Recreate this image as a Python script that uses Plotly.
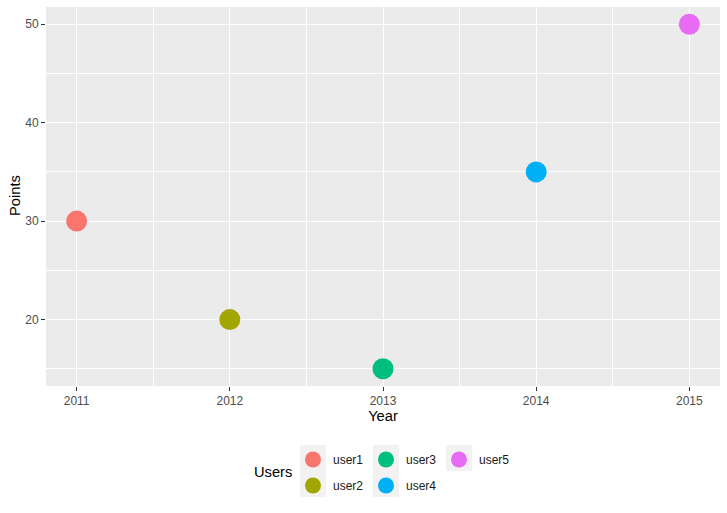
import plotly.graph_objects as go

users = ["user1", "user2", "user3", "user4", "user5"]
years = [2011, 2012, 2013, 2014, 2015]
points = [30, 20, 15, 35, 50]
colors = ["#F8766D", "#A3A500", "#00BF7D", "#00B0F6", "#E76BF3"]
legend_ids = ["legend", "legend", "legend2", "legend2", "legend3"]

W, H = 727, 513
ml, mr, mt, mb = 46, 7, 7, 127
pw = W - ml - mr
ph = H - mt - mb

def px_x(p):
    return (p - ml) / pw

def px_y(p):
    return (H - mb - p) / ph

def cx(p):
    return p / W

def cy(p):
    return 1 - p / H

fig = go.Figure()
for u, yr, pt, c, lg in zip(users, years, points, colors, legend_ids):
    fig.add_trace(go.Scatter(
        x=[yr], y=[pt], mode="markers", name=u, legend=lg,
        legendgroup=u,
        marker=dict(color=c, size=21, line=dict(width=0)),
    ))

font = "Liberation Sans, Arial, sans-serif"
leg_common = dict(
    orientation="v", xanchor="left", yanchor="top",
    xref="container", yref="container",
    bgcolor="rgba(0,0,0,0)", borderwidth=0,
    font=dict(family=font, size=12, color="#1A1A1A"),
    itemsizing="trace", tracegroupgap=7, title=dict(text=""),
)
leg_top = cy(445)

fig.update_layout(
    width=W, height=H,
    margin=dict(l=ml, r=mr, t=mt, b=mb, autoexpand=False),
    paper_bgcolor="white", plot_bgcolor="#EBEBEB",
    font=dict(family=font),
    showlegend=True,
    legend=dict(x=cx(293), y=leg_top, **leg_common),
    legend2=dict(x=cx(366), y=leg_top, **leg_common),
    legend3=dict(x=cx(439), y=leg_top, **leg_common),
    xaxis=dict(
        range=[2010.8, 2015.2], tickmode="array", tickvals=years,
        ticktext=[str(y) for y in years],
        showgrid=True, gridcolor="white", gridwidth=1.1,
        minor=dict(dtick=0.5, tick0=2010.5, showgrid=True, gridcolor="white", gridwidth=0.55),
        zeroline=False, showline=False,
        ticks="outside", ticklen=4, tickwidth=1.1, tickcolor="#333333",
        tickfont=dict(family=font, size=12, color="#4D4D4D"),
        title=dict(text="Year", font=dict(family=font, size=14.7, color="black"), standoff=1),
    ),
    yaxis=dict(
        range=[13.25, 51.75], tickmode="array", tickvals=[20, 30, 40, 50],
        showgrid=True, gridcolor="white", gridwidth=1.1,
        minor=dict(tickmode="array", tickvals=[15, 25, 35, 45], showgrid=True, gridcolor="white", gridwidth=0.55),
        zeroline=False, showline=False,
        ticks="outside", ticklen=4, tickwidth=1.1, tickcolor="#333333",
        tickfont=dict(family=font, size=12, color="#4D4D4D"),
    ),
    annotations=[
        dict(text="Users", xref="paper", yref="paper", x=px_x(294), y=px_y(472),
             xanchor="right", yanchor="middle", showarrow=False,
             font=dict(family=font, size=14.7, color="black")),
        dict(text="Points", xref="paper", yref="paper", x=px_x(15), y=px_y(196),
             xanchor="center", yanchor="middle", showarrow=False, textangle=-90,
             font=dict(family=font, size=14.7, color="black")),
    ],
    shapes=[
        dict(type="rect", xref="paper", yref="paper", x0=px_x(300), x1=px_x(326),
             y0=px_y(445), y1=px_y(497), fillcolor="#F2F2F2", line=dict(width=0), layer="below"),
        dict(type="rect", xref="paper", yref="paper", x0=px_x(373), x1=px_x(399),
             y0=px_y(445), y1=px_y(497), fillcolor="#F2F2F2", line=dict(width=0), layer="below"),
        dict(type="rect", xref="paper", yref="paper", x0=px_x(446), x1=px_x(472),
             y0=px_y(445), y1=px_y(471), fillcolor="#F2F2F2", line=dict(width=0), layer="below"),
    ],
)

fig.write_html("out.html", config={"displayModeBar": False},
               post_script="document.body.style.margin='0';")
